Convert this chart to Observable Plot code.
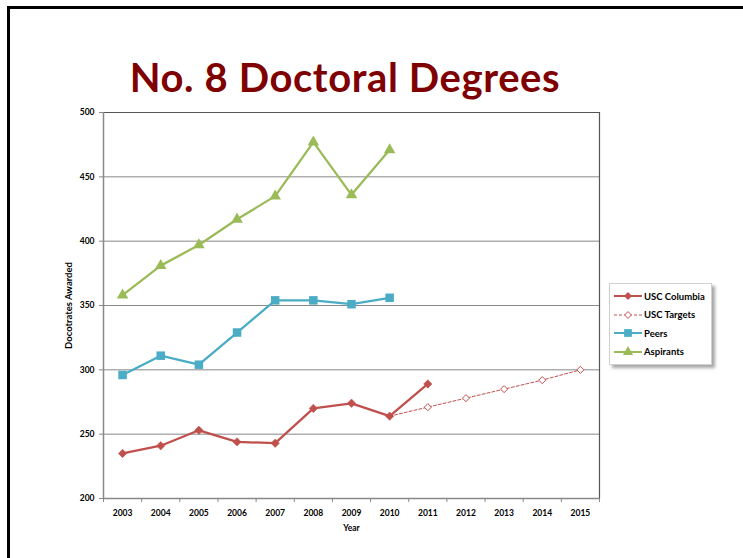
<!DOCTYPE html>
<html>
<head>
<meta charset="utf-8">
<script src="https://cdn.jsdelivr.net/npm/d3@7"></script>
<script src="https://cdn.jsdelivr.net/npm/@observablehq/plot@0.6"></script>
<style>
  html, body { margin: 0; padding: 0; background: #fff; }
  #wrap { position: relative; width: 743px; height: 558px; overflow: hidden; font-family: Lato, "Open Sans", sans-serif; }
  #frame { position: absolute; left: 7px; top: 6px; width: 760px; height: 600px; border-left: 3px solid #000; border-top: 3px solid #000; box-sizing: border-box; }
  #title { position: absolute; left: 0; width: 690px; top: 53px; text-align: center; font-family: Lato, sans-serif; font-weight: 700; font-size: 40px; color: #7f0000; letter-spacing: 0.6px; }
  #chart { position: absolute; left: 0; top: 0; }
  #legend { position: absolute; left: 609px; top: 283px; width: 101px; height: 80px; background: #fff; border: 1px solid #d0d0d0; box-shadow: 3px 3px 3px rgba(0,0,0,0.35); font-family: Lato, sans-serif; font-weight: 700; font-size: 9.5px; color: #000; }
  .row { position: absolute; left: 4px; height: 14px; display: flex; align-items: center; }
  .row svg { margin-right: 2px; }
</style>
</head>
<body>
<div id="wrap">
  <div id="frame"></div>
  <div id="chart"></div>
  <div id="title">No. 8 Doctoral Degrees</div>
  <div id="legend"></div>
</div>
<script>
const years = [2003,2004,2005,2006,2007,2008,2009,2010,2011,2012,2013,2014,2015];
const uscYears = [2003,2004,2005,2006,2007,2008,2009,2010,2011];
const uscColumbia = [235,241,253,244,243,270,274,264,289];
const targetYears = [2010,2011,2012,2013,2014,2015];
const uscTargets = [264,271,278,285,292,300];
const peerYears = [2003,2004,2005,2006,2007,2008,2009,2010];
const peers = [296,311,304,329,354,354,351,356];
const aspirants = [358,381,397,417,435,477,436,471];
const yTicks = [200,250,300,350,400,450,500];
const seriesNames = ["USC Columbia","USC Targets","Peers","Aspirants"];
const colors = {red:"#c0504d", blue:"#4bacc6", green:"#9bbb59"};

const usc = uscYears.map((y,i)=>({year:y, v:uscColumbia[i]}));
const tgt = targetYears.map((y,i)=>({year:y, v:uscTargets[i]}));
const pr = peerYears.map((y,i)=>({year:y, v:peers[i]}));
const asp = peerYears.map((y,i)=>({year:y, v:aspirants[i]}));
const bounds = years.map(y=>y-0.5).concat([years[years.length-1]+0.5]);

const fontFam = "Lato, 'Open Sans', sans-serif";

const plot = Plot.plot({
  width: 743, height: 558,
  marginLeft: 103, marginRight: 144, marginTop: 112, marginBottom: 60,
  style: {fontFamily: fontFam, fontWeight: 700, fontSize: "8.5px", color: "#000", background: "transparent"},
  x: {domain: [2002.5, 2015.5]},
  y: {domain: [200, 500]},
  marks: [
    Plot.gridY(yTicks.slice(1,-1), {stroke: "#888", strokeOpacity: 1, strokeWidth: 1}),
    Plot.ruleY([500], {stroke: "#555", strokeWidth: 1.2}),
    Plot.ruleX([2015.5], {stroke: "#555", strokeWidth: 1.2}),
    Plot.ruleX([2002.5], {stroke: "#888", strokeWidth: 1.5}),
    Plot.ruleY([200], {stroke: "#888", strokeWidth: 1.5}),
    Plot.axisY(yTicks, {tickSize: 4, tickPadding: 5, stroke: "#888", label: null, fontWeight: 700, fontSize: 8.5}),
    Plot.axisX(bounds, {tickSize: 4, tickFormat: () => "", stroke: "#888", label: null}),
    Plot.axisX(years, {tickSize: 0, tickPadding: 11, tickFormat: d => String(d), label: null, fontWeight: 700, fontSize: 8.5}),
    Plot.text(["Year"], {frameAnchor: "bottom", dy: 32, fontWeight: 700, fontSize: 8.5}),
    Plot.text(["Docotrates Awarded"], {frameAnchor: "left", textAnchor: "middle", dx: -35, rotate: -90, fontWeight: 700, fontSize: 9.5}),
    Plot.line(tgt, {x: "year", y: "v", stroke: colors.red, strokeWidth: 1, strokeDasharray: "3,2"}),
    Plot.dot(tgt.slice(1), {x: "year", y: "v", symbol: "diamond2", r: 3.2, stroke: colors.red, fill: "#fff", strokeWidth: 1}),
    Plot.line(asp, {x: "year", y: "v", stroke: colors.green, strokeWidth: 2.3}),
    Plot.dot(asp, {x: "year", y: "v", symbol: "triangle", r: 4.3, fill: colors.green}),
    Plot.line(pr, {x: "year", y: "v", stroke: colors.blue, strokeWidth: 2.3}),
    Plot.dot(pr, {x: "year", y: "v", symbol: "square", r: 4.8, fill: colors.blue}),
    Plot.line(usc, {x: "year", y: "v", stroke: colors.red, strokeWidth: 2.3}),
    Plot.dot(usc, {x: "year", y: "v", symbol: "diamond2", r: 3.8, fill: colors.red, stroke: colors.red, strokeWidth: 0.5})
  ]
});
document.getElementById("chart").appendChild(plot);

// legend
const leg = document.getElementById("legend");
const specs = [
  {c: colors.red, dash: null, w: 2, sym: d3.symbolDiamond2, size: 40, fill: colors.red},
  {c: colors.red, dash: "3,2", w: 1, sym: d3.symbolDiamond2, size: 30, fill: "#fff"},
  {c: colors.blue, dash: null, w: 2, sym: d3.symbolSquare, size: 60, fill: colors.blue},
  {c: colors.green, dash: null, w: 2, sym: d3.symbolTriangle, size: 45, fill: colors.green}
];
seriesNames.forEach((name, i) => {
  const s = specs[i];
  const row = document.createElement("div");
  row.className = "row";
  row.style.top = (5 + i * 18.5) + "px";
  const ns = "http://www.w3.org/2000/svg";
  const svg = document.createElementNS(ns, "svg");
  svg.setAttribute("width", 28); svg.setAttribute("height", 14);
  const ln = document.createElementNS(ns, "line");
  ln.setAttribute("x1", 0); ln.setAttribute("x2", 28); ln.setAttribute("y1", 7); ln.setAttribute("y2", 7);
  ln.setAttribute("stroke", s.c); ln.setAttribute("stroke-width", s.w);
  if (s.dash) ln.setAttribute("stroke-dasharray", s.dash);
  svg.appendChild(ln);
  const p = document.createElementNS(ns, "path");
  p.setAttribute("d", d3.symbol(s.sym, s.size)());
  p.setAttribute("transform", "translate(14,7)");
  p.setAttribute("fill", s.fill);
  if (s.fill === "#fff") { p.setAttribute("stroke", s.c); p.setAttribute("stroke-width", 1); }
  svg.appendChild(p);
  row.appendChild(svg);
  const t = document.createElement("span");
  t.textContent = name;
  row.appendChild(t);
  leg.appendChild(row);
});
</script>
</body>
</html>
